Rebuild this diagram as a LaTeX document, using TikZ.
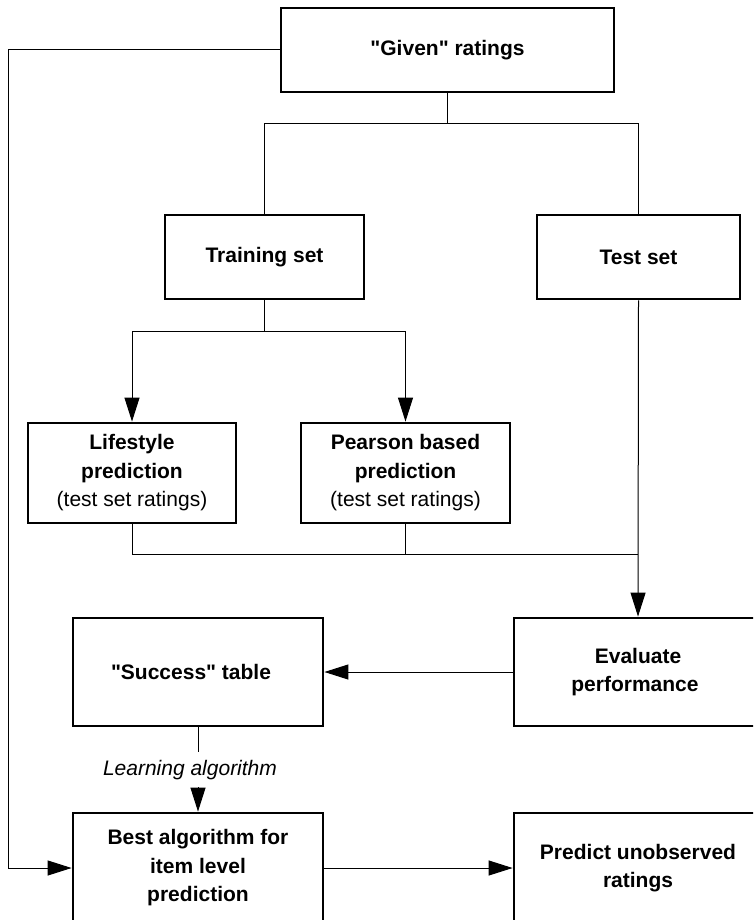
\documentclass[tikz,border=0pt]{standalone}
\usepackage{fontspec}
\setmainfont{Liberation Sans}[Ligatures=TeXOff]
\usetikzlibrary{arrows.meta}
\begin{document}
\begin{tikzpicture}[x=1pt,y=-1pt,
  box/.style={draw, line width=2.8pt, align=center, inner sep=0pt,
    font=\bfseries\fontsize{21}{28.5}\selectfont},
  conn/.style={line width=1pt},
  arr/.style={conn, -{Triangle[length=24pt,width=15pt]}},
  lbl/.style={font=\itshape\fontsize{21}{25}\selectfont, inner sep=0pt}
]
\useasboundingbox (0,0) rectangle (753,920);
\clip (0,0) rectangle (753,920);

\node[box, minimum width=333pt, minimum height=84pt] (given) at (447.5,50) {"Given" ratings};
\node[box, minimum width=199pt, minimum height=84pt] (train) at (264.5,257) {Training set};
\node[box, minimum width=203pt, minimum height=84pt] (test) at (638.5,257) {Test set};
\node[box, minimum width=208pt, minimum height=100pt] (life) at (132,473) {Lifestyle\\prediction\\{\mdseries (test set ratings)}};
\node[box, minimum width=209pt, minimum height=100pt] (pear) at (405.5,473) {Pearson based\\prediction\\{\mdseries (test set ratings)}};
\node[box, minimum width=250pt, minimum height=108pt] (succ) at (198,672) {"Success" table\hspace*{14pt}};
\node[box, minimum width=248pt, minimum height=108pt] (eval) at (638,672) {Evaluate\\performance\hspace*{6pt}};
\node[box, minimum width=250pt, minimum height=110pt] (best) at (198,868) {Best algorithm for\\item level\\prediction};
\node[box, minimum width=248pt, minimum height=110pt] (pred) at (638,868) {Predict unobserved\\ratings};
\node[lbl] (learn) at (190,770) {Learning algorithm};

% Given -> split
\draw[conn] (given.south) -- ++(0,30) coordinate (gsplit);
\draw[conn] (train.north) |- (gsplit) -| (test.north);
% Given -> best (left loop)
\coordinate (lcorner) at (8,50);
\draw[arr] (given.west) -- (lcorner) |- (best.west);
% Training -> predictions
\draw[conn] (train.south) -- ++(0,31) coordinate (tsplit);
\draw[arr] (tsplit) -| (life.north);
\draw[arr] (tsplit) -| (pear.north);
% predictions -> join
\coordinate (join) at (638,554);
\draw[conn] (life.south) |- (join);
\draw[conn] (pear.south) -- (pear.south |- join);
% Test -> Evaluate
\draw[arr] (test.south) -- (eval.north);
% Evaluate -> Success
\draw[arr] (eval.west) -- (succ.east);
% Success -> Best via label
\coordinate (la) at (198,752);
\coordinate (lb) at (198,787);
\draw[conn] (succ.south) -- (la);
\draw[arr] (lb) -- (best.north);
% Best -> Predict
\draw[arr] (best.east) -- (pred.west);
\end{tikzpicture}
\end{document}
